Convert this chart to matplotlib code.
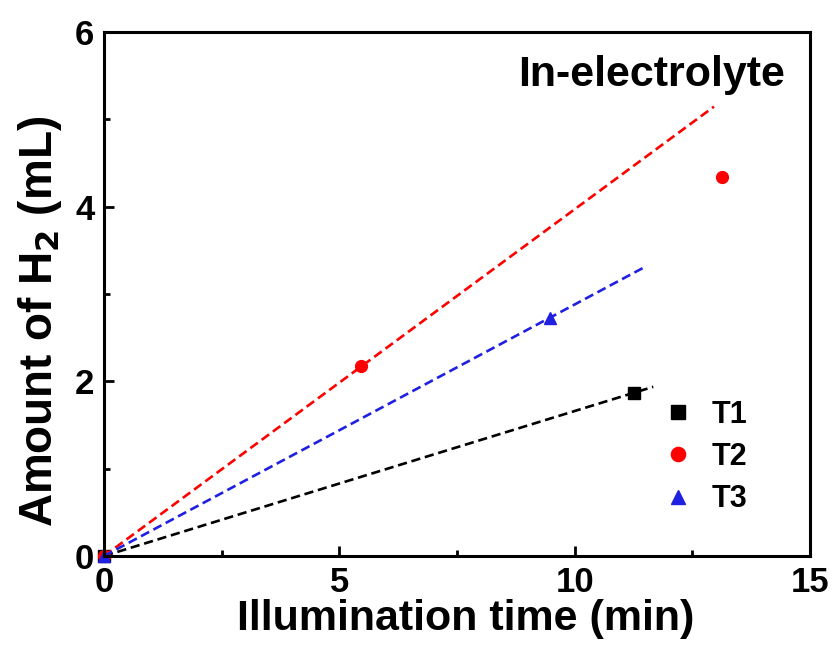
import numpy as np
import matplotlib
matplotlib.use('Agg')
import matplotlib.pyplot as plt
from matplotlib.ticker import MultipleLocator

plt.rcParams['font.family'] = ['Liberation Sans', 'DejaVu Sans']
plt.rcParams['font.weight'] = 'bold'

# Dados
t1_time = [0, 11.26]
t1_h2 = [0, 1.87]
t2_time = [0, 5.45, 13.13]
t2_h2 = [0, 2.17, 4.34]
t3_time = [0, 9.48]
t3_h2 = [0, 2.73]

# Ajustes lineares (inclinação, x final da reta)
fit_slopes = [0.166, 0.397, 0.288]
fit_x_end = [11.67, 12.96, 11.45]

colors = ['black', 'red', '#2020e0']
markers = ['s', 'o', '^']
labels = ['T1', 'T2', 'T3']
series = [(t1_time, t1_h2), (t2_time, t2_h2), (t3_time, t3_h2)]

fig = plt.figure(figsize=(8.34, 6.46), dpi=100)
ax = fig.add_axes([0.1247, 0.1393, 0.8465, 0.8112])

for (x, y), slope, xe, c, m, lab in zip(series, fit_slopes, fit_x_end, colors, markers, labels):
    xf = np.array([0, xe])
    ax.plot(xf, slope * xf, linestyle=(0, (3.5, 1.8)), color=c, linewidth=1.9)
    ax.plot(x, y, linestyle='none', marker=m, color=c, markersize=8.5, label=lab, clip_on=False)

ax.set_xlim(0, 15)
ax.set_ylim(0, 6)
ax.xaxis.set_major_locator(MultipleLocator(5))
ax.xaxis.set_minor_locator(MultipleLocator(2.5))
ax.yaxis.set_major_locator(MultipleLocator(2))
ax.yaxis.set_minor_locator(MultipleLocator(1))
ax.tick_params(which='both', direction='in', width=2, labelsize=25, pad=7)
ax.tick_params(which='major', length=7)
ax.tick_params(which='minor', length=4)
ax.tick_params(top=False, right=False)
for s in ax.spines.values():
    s.set_linewidth(2.2)

ax.set_xlabel('Illumination time (min)', fontsize=31, fontweight='bold')
ax.set_ylabel('Amount of H$_\\mathbf{2}$ (mL)', fontsize=33, fontweight='bold')
ax.yaxis.set_label_coords(-0.057, 0.447)
ax.xaxis.set_label_coords(0.512, -0.082)
ax.text(0.776, 0.918, 'In-electrolyte', transform=ax.transAxes, fontsize=31,
        fontweight='bold', ha='center', va='center')

ax.legend(loc='lower right', bbox_to_anchor=(0.95, 0.027), frameon=False, fontsize=22,
          handlelength=0.8, handletextpad=0.7, labelspacing=0.4, markerscale=1.2)

plt.savefig('out.png', dpi=100)
